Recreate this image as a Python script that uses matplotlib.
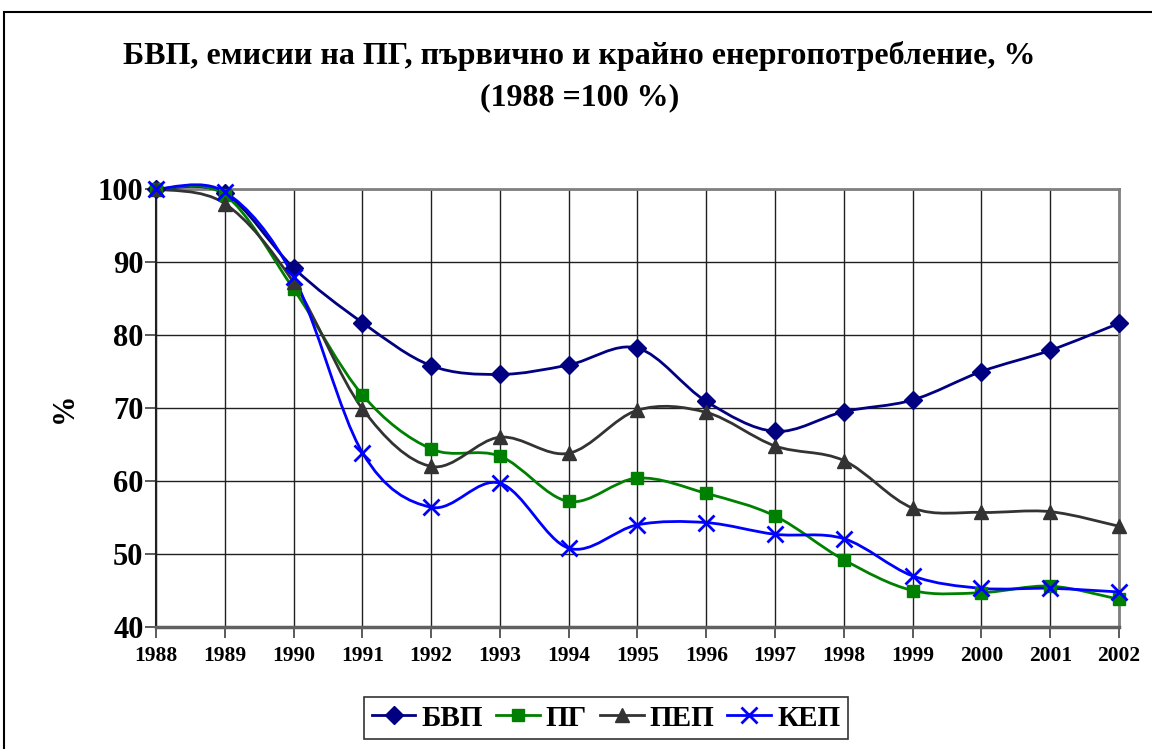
import matplotlib.pyplot as plt
from matplotlib.path import Path
from matplotlib.patches import PathPatch, Rectangle
from matplotlib.lines import Line2D

years = [1988, 1989, 1990, 1991, 1992, 1993, 1994, 1995,
         1996, 1997, 1998, 1999, 2000, 2001, 2002]
bvp = [100, 99.4, 89.2, 81.7, 75.8, 74.6, 75.9, 78.2,
       70.9, 66.8, 69.5, 71.1, 75.0, 77.9, 81.6]
pg = [100, 99.2, 86.3, 71.8, 64.4, 63.4, 57.2, 60.4,
      58.3, 55.2, 49.2, 45.0, 44.7, 45.6, 43.8]
pep = [100, 98.0, 87.2, 69.9, 62.0, 66.0, 63.8, 69.7,
       69.4, 64.8, 62.8, 56.3, 55.7, 55.8, 53.8]
kep = [100, 99.6, 88.0, 63.9, 56.4, 59.7, 50.8, 54.0,
       54.3, 52.7, 52.1, 47.0, 45.3, 45.3, 44.8]

series = [
    ("БВП", bvp, "#000080", "D", 9, 0),
    ("ПГ", pg, "#008000", "s", 9, 0),
    ("ПЕП", pep, "#333333", "^", 10, 0),
    ("КЕП", kep, "#0000FF", "x", 11, 2),
]

plt.rcParams['font.family'] = ['Liberation Serif', 'DejaVu Serif']
plt.rcParams['font.weight'] = 'bold'


def smooth_path(xs, ys):
    # Excel-like smoothed line: cubic bezier through the points
    pts = list(zip(xs, ys))
    verts = [pts[0]]
    codes = [Path.MOVETO]
    n = len(pts)
    for i in range(n - 1):
        p0 = pts[i - 1] if i > 0 else pts[i]
        p1 = pts[i]
        p2 = pts[i + 1]
        p3 = pts[i + 2] if i + 2 < n else pts[i + 1]
        c1 = (p1[0] + (p2[0] - p0[0]) / 6, p1[1] + (p2[1] - p0[1]) / 6)
        c2 = (p2[0] - (p3[0] - p1[0]) / 6, p2[1] - (p3[1] - p1[1]) / 6)
        verts += [c1, c2, p2]
        codes += [Path.CURVE4] * 3
    return Path(verts, codes)


fig = plt.figure(figsize=(11.52, 7.49), dpi=100)
ax = fig.add_axes([156 / 1152, 1 - 627 / 749, 963 / 1152, 438 / 749])

# chart area border
fig.patches.append(Rectangle((4 / 1152, -0.1), 1.2, 1 - 12 / 749 + 0.1,
                             transform=fig.transFigure, fill=False,
                             edgecolor="black", linewidth=1.5))

handles = []
for name, vals, col, mk, ms, mew in series:
    ax.add_patch(PathPatch(smooth_path(years, vals), fill=False,
                           edgecolor=col, linewidth=2, zorder=3,
                           clip_on=False))
    ax.plot(years, vals, linestyle="none", marker=mk, markersize=ms,
            color=col, markeredgewidth=mew if mew else 1, zorder=4,
            clip_on=False)
    handles.append(Line2D([], [], color=col, linewidth=2, marker=mk,
                          markersize=ms, markeredgewidth=mew if mew else 1,
                          label=name))

ax.set_xlim(1988, 2002)
ax.set_ylim(40, 100)
ax.set_xticks(years)
ax.set_xticklabels([str(y) for y in years], fontsize=15.5, fontweight="bold")
ax.set_yticks(range(40, 101, 10))
ax.set_yticklabels([str(v) for v in range(40, 101, 10)], fontsize=22,
                   fontweight="bold")
ax.tick_params(axis="both", direction="out", length=8, width=1.2,
               color="#404040", pad=6)
ax.tick_params(axis="y", pad=1)
ax.grid(True, color="#202020", linewidth=1)
ax.set_axisbelow(True)
for s in ["top", "right"]:
    ax.spines[s].set_color("#808080")
    ax.spines[s].set_linewidth(2)
ax.spines["left"].set_color("#202020")
ax.spines["left"].set_linewidth(1.5)
ax.spines["bottom"].set_color("#606060")
ax.spines["bottom"].set_linewidth(2.5)

ax.set_ylabel("%", fontsize=22, fontweight="bold", labelpad=14)

fig.text(0.503, 1 - 56 / 749, "БВП, емисии на ПГ, първично и крайно енергопотребление, %",
         ha="center", va="center", fontsize=23, fontweight="bold")
fig.text(0.503, 1 - 98 / 749, "(1988 =100 %)",
         ha="center", va="center", fontsize=23, fontweight="bold")

leg = fig.legend(handles=handles, loc="center", ncol=4,
                 bbox_to_anchor=(606 / 1152, 1 - 718 / 749),
                 prop={"size": 21, "weight": "bold"}, frameon=True,
                 fancybox=False, edgecolor="black", handlelength=1.5,
                 handletextpad=0.2, columnspacing=0.45, borderpad=0.25,
                 borderaxespad=0.2)
leg.get_frame().set_linewidth(1.2)

fig.savefig("out.png", dpi=100)
